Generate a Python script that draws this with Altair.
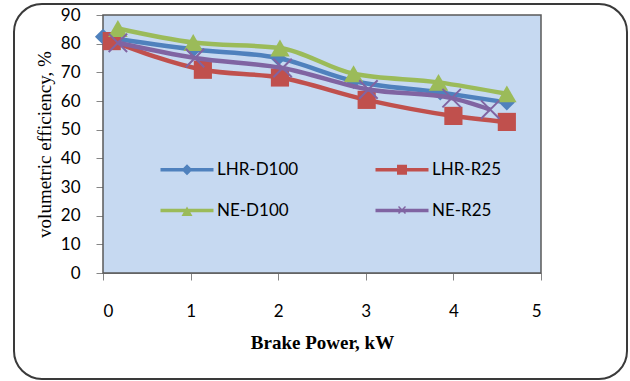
import altair as alt
import pandas as pd

# ---- data ----
series_names = ["LHR-D100", "LHR-R25", "NE-D100", "NE-R25"]
colors = ["#4F81BD", "#C0504D", "#9BBB59", "#8064A2"]

lhr_d100_x = [0.0, 1.03, 2.0, 2.86, 3.85, 4.61]
lhr_d100_y = [82.4, 78.0, 75.0, 67.0, 63.0, 59.5]

lhr_r25_x = [0.1, 1.14, 2.02, 3.01, 4.0, 4.61]
lhr_r25_y = [80.9, 70.9, 68.2, 60.4, 54.8, 52.7]

ne_d100_x = [0.17, 1.03, 2.02, 2.86, 3.83, 4.61]
ne_d100_y = [85.3, 80.4, 78.5, 69.5, 66.5, 62.5]

ne_r25_x = [0.17, 1.05, 2.05, 3.03, 3.98, 4.42]
ne_r25_y = [80.3, 75.0, 71.5, 64.0, 61.0, 57.0]

x_ticks = [0, 1, 2, 3, 4, 5]
y_ticks = [0, 10, 20, 30, 40, 50, 60, 70, 80, 90]

xs = [lhr_d100_x, lhr_r25_x, ne_d100_x, ne_r25_x]
ys = [lhr_d100_y, lhr_r25_y, ne_d100_y, ne_r25_y]

rows = []
for name, xv, yv in zip(series_names, xs, ys):
    for i, (a, b) in enumerate(zip(xv, yv)):
        rows.append({"series": name, "bp": a, "ve": b, "order": i})
df = pd.DataFrame(rows)

W, H = 438, 258

# marker shapes in the plot
X_PATH = "M-1,-1L1,1M-1,1L1,-1"
plot_shapes = {
    "LHR-D100": dict(shape="diamond", filled=True, size=260),
    "LHR-R25": dict(shape="square", filled=True, size=330),
    "NE-D100": dict(shape="triangle-up", filled=True, size=380),
    "NE-R25": dict(shape=X_PATH, filled=False, size=340, strokeWidth=2),
}

# legend symbols: line + marker
LINE = "M-1,-0.35H9.6V0.35H-1Z"
legend_paths = [
    LINE + " M4.3,-1.1L5.4,0L4.3,1.1L3.2,0Z",
    LINE + " M3.3,-1H5.3V1H3.3Z",
    LINE + " M4.3,-0.8L5.4,1.1H3.2Z",
    LINE + " M3.7,-0.9L4.3,-0.3L4.9,-0.9L5.1,-0.7L4.5,-0.1L5.1,0.5L4.9,0.7L4.3,0.1L3.7,0.7L3.5,0.5L4.1,-0.1L3.5,-0.7Z",
]

xscale = alt.Scale(domain=[0, 5], nice=False, zero=False)
yscale = alt.Scale(domain=[0, 90], nice=False)
cscale = alt.Scale(domain=series_names, range=colors)

xenc = alt.X("bp:Q", scale=xscale, axis=alt.Axis(
    values=x_ticks, title="Brake Power, kW", grid=False, tickSize=7,
    labelPadding=23, titlePadding=14, format="d"))
yenc = alt.Y("ve:Q", scale=yscale, axis=alt.Axis(
    values=y_ticks, title="volumetric efficiency, %", grid=False, tickSize=7,
    labelPadding=16, titlePadding=6, format="d"))

layers = []

# plot-area background and outer frame (decoration)
bg = alt.Chart(alt.Data(values=[{"k": 1}])).mark_rect(
    color="#C6D9F1", stroke="#595959", strokeWidth=1.5
).encode(x=alt.value(0), x2=alt.value(W), y=alt.value(0), y2=alt.value(H))
frame = alt.Chart(alt.Data(values=[{"k": 1}])).mark_rect(
    filled=False, fill="transparent", stroke="#3a3a3a", strokeWidth=2, cornerRadius=28
).encode(x=alt.value(-89), x2=alt.value(524), y=alt.value(-11), y2=alt.value(364))
layers += [bg, frame]

for name, col in zip(series_names, colors):
    base = alt.Chart(df).transform_filter(alt.datum.series == name)
    line = base.mark_line(strokeWidth=4.5, interpolate="monotone", color=col).encode(
        x=xenc, y=yenc, order="order:Q")
    sp = plot_shapes[name]
    pt = base.mark_point(opacity=1, color=col, **sp).encode(x=xenc, y=yenc)
    layers += [line, pt]

leg = dict(title=None, orient="none", legendX=54, legendY=146, columns=2,
           direction="horizontal",
           columnPadding=73, rowPadding=23, symbolSize=100, labelOffset=43,
           labelFont="Lato", labelFontSize=17, labelColor="#000000", padding=0,
           symbolStrokeWidth=0, symbolOpacity=1)
legend_layer = alt.Chart(df).mark_point(filled=True, size=0).encode(
    color=alt.Color("series:N", scale=cscale, legend=alt.Legend(**leg)),
    shape=alt.Shape("series:N", scale=alt.Scale(domain=series_names, range=legend_paths),
                    legend=alt.Legend(**leg)),
)
layers.append(legend_layer)

chart = alt.layer(*layers).properties(
    width=W, height=H,
    autosize=alt.AutoSizeParams(type="none"),
    padding={"left": 103, "top": 15, "right": 89, "bottom": 108},
    background="white",
).configure_view(
    stroke=None
).configure_axis(
    domainColor="#868686", tickColor="#868686", labelFont="Lato", labelFontSize=17,
    labelColor="#000000", titleColor="#000000", labelFontWeight="normal"
).configure_axisX(
    titleFont="Liberation Serif", titleFontSize=19, titleFontWeight="bold"
).configure_axisY(
    titleFont="Liberation Serif", titleFontSize=19, titleFontWeight="normal"
)

chart.save("out.html", embed_options={"renderer": "svg", "actions": False})
